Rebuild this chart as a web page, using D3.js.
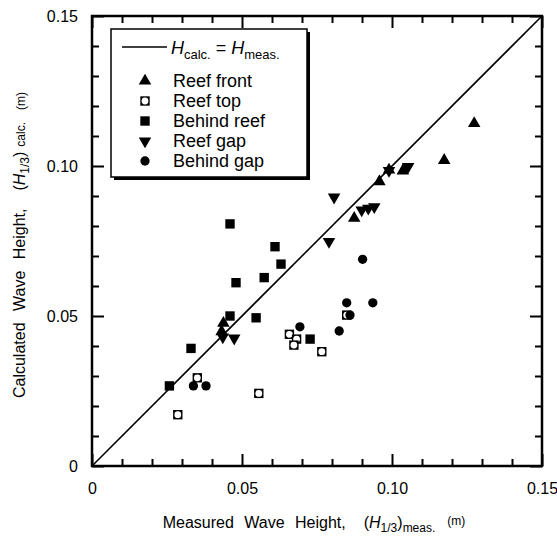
<!DOCTYPE html>
<html lang="en">
<head>
<meta charset="UTF-8">
<title>Calculated vs Measured Wave Height</title>
<script src="https://d3js.org/d3.v7.min.js"></script>
<style>
    body { margin: 0; background: #fff; }
    svg { font-family: "Liberation Sans", Arial, sans-serif; }
    .tick text { font-size: 16px; fill: #000; }
    .tick line { stroke: #000; stroke-width: 2px; }
</style>
</head>
<body>
<svg width="557" height="537"></svg>
<script>
// values, (measured, calculated) in metres
const reefFront = [[0.0438, 0.0476], [0.0432, 0.0448], [0.0874, 0.0826], [0.0958, 0.0948],
    [0.0990, 0.0987], [0.1036, 0.0984], [0.1174, 0.1019], [0.1274, 0.1142]];
const reefTop = [[0.0286, 0.0171], [0.0351, 0.0294], [0.0556, 0.0242], [0.0658, 0.0439],
    [0.0682, 0.0423], [0.0673, 0.0403], [0.0766, 0.0381], [0.0849, 0.0503]];
const behindReef = [[0.0258, 0.0267], [0.0330, 0.0392], [0.0460, 0.0500], [0.0547, 0.0494],
    [0.0480, 0.0611], [0.0574, 0.0628], [0.0630, 0.0673], [0.0610, 0.0731], [0.0460, 0.0807],
    [0.0727, 0.0423]];
const reefGap = [[0.0436, 0.0430], [0.0474, 0.0426], [0.0790, 0.0748], [0.0807, 0.0896],
    [0.0899, 0.0853], [0.0921, 0.0859], [0.0941, 0.0864], [0.0990, 0.0985], [0.1054, 0.0998]];
const behindGap = [[0.0338, 0.0267], [0.0380, 0.0267], [0.0693, 0.0464], [0.0824, 0.0450],
    [0.0849, 0.0544], [0.0860, 0.0503], [0.0936, 0.0544], [0.0902, 0.0689]];

const majorTicks = [0, 0.05, 0.10, 0.15];
const minorTicks = [0.01, 0.02, 0.03, 0.04, 0.06, 0.07, 0.08, 0.09, 0.11, 0.12, 0.13, 0.14];
const tickLabels = ["0", "0.05", "0.10", "0.15"];
const legendNames = ["Reef front", "Reef top", "Behind reef", "Reef gap", "Behind gap"];

const svg = d3.select("svg"),
      margin = { top: 16, right: 15, bottom: 71, left: 92 },
      width = 557 - margin.left - margin.right,
      height = 537 - margin.top - margin.bottom,
      g = svg.append("g").attr("transform", `translate(${margin.left},${margin.top})`);

const x = d3.scaleLinear().domain([0, 0.15]).range([0, width]);
const y = d3.scaleLinear().domain([0, 0.15]).range([height, 0]);
const fmt = d => tickLabels[majorTicks.findIndex(t => Math.abs(t - d) < 1e-9)];

// inward ticks on all four sides
g.append("g").attr("transform", `translate(0,${height})`)
    .call(d3.axisBottom(x).tickValues(minorTicks).tickSize(-7).tickFormat(""));
g.append("g").attr("transform", `translate(0,${height})`)
    .call(d3.axisBottom(x).tickValues(majorTicks).tickSize(-12).tickPadding(17).tickFormat(fmt));
g.append("g").call(d3.axisTop(x).tickValues(minorTicks).tickSize(-7).tickFormat(""));
g.append("g").call(d3.axisTop(x).tickValues(majorTicks).tickSize(-12).tickFormat(""));
g.append("g").call(d3.axisLeft(y).tickValues(minorTicks).tickSize(-7).tickFormat(""));
g.append("g").call(d3.axisLeft(y).tickValues(majorTicks).tickSize(-12).tickPadding(14).tickFormat(fmt));
g.append("g").attr("transform", `translate(${width},0)`)
    .call(d3.axisRight(y).tickValues(minorTicks).tickSize(-7).tickFormat(""));
g.append("g").attr("transform", `translate(${width},0)`)
    .call(d3.axisRight(y).tickValues(majorTicks).tickSize(-12).tickFormat(""));
g.selectAll(".domain").remove();

// frame
g.append("rect").attr("width", width).attr("height", height)
    .attr("fill", "none").attr("stroke", "#000").attr("stroke-width", 2.5);

// 1:1 line
g.append("line")
    .attr("x1", x(0)).attr("y1", y(0)).attr("x2", x(0.15)).attr("y2", y(0.15))
    .attr("stroke", "#000").attr("stroke-width", 1.6);

const triUp = d3.symbol().type(d3.symbolTriangle).size(68);
const sq = d3.symbol().type(d3.symbolSquare).size(88);
const circ = d3.symbol().type(d3.symbolCircle).size(68);

function drawMarker(sel, kind) {
    if (kind === 0) sel.append("path").attr("d", triUp()).attr("fill", "#000");
    if (kind === 1) {
        sel.append("path").attr("d", sq()).attr("fill", "#000");
        sel.append("circle").attr("r", 3.4).attr("fill", "#fff");
    }
    if (kind === 2) sel.append("path").attr("d", sq()).attr("fill", "#000");
    if (kind === 3) sel.append("path").attr("d", triUp()).attr("transform", "rotate(180)").attr("fill", "#000");
    if (kind === 4) sel.append("path").attr("d", circ()).attr("fill", "#000");
}

[reefFront, reefTop, behindReef, reefGap, behindGap].forEach((series, k) => {
    g.append("g").selectAll("g")
        .data(series)
        .enter().append("g")
        .attr("transform", d => `translate(${x(d[0])},${y(d[1])})`)
        .each(function () { drawMarker(d3.select(this), k); });
});

// legend
const lg = svg.append("g").attr("transform", "translate(111,29)");
lg.append("rect").attr("x", 3).attr("y", 3).attr("width", 196).attr("height", 148).attr("fill", "#000");
lg.append("rect").attr("width", 196).attr("height", 148)
    .attr("fill", "#fff").attr("stroke", "#000").attr("stroke-width", 1.5);
lg.append("line").attr("x1", 11).attr("x2", 56).attr("y1", 18).attr("y2", 18)
    .attr("stroke", "#000").attr("stroke-width", 1.6);
const eq = lg.append("text").attr("x", 60).attr("y", 25).attr("font-size", 18);
eq.append("tspan").attr("font-style", "italic").text("H");
eq.append("tspan").attr("font-size", 13).attr("dy", 5).text("calc.");
eq.append("tspan").attr("dy", -5).text(" = ");
eq.append("tspan").attr("font-style", "italic").text("H");
eq.append("tspan").attr("font-size", 13).attr("dy", 5).text("meas.");

legendNames.forEach((name, i) => {
    const row = lg.append("g").attr("transform", `translate(34,${52 + i * 20})`);
    drawMarker(row, i);
    row.append("text").attr("x", 28).attr("y", 6).attr("font-size", 18).text(name);
});

// axis titles
const xt = svg.append("text").attr("x", 314).attr("y", 528)
    .attr("text-anchor", "middle").attr("font-size", 16).attr("word-spacing", 6);
xt.append("tspan").text("Measured Wave Height,");
xt.append("tspan").attr("dx", 18).text("(");
xt.append("tspan").attr("font-style", "italic").text("H");
xt.append("tspan").attr("font-size", 12).attr("dy", 4).text("1/3");
xt.append("tspan").attr("dy", -4).text(")");
xt.append("tspan").attr("font-size", 12).attr("dy", 4).text("meas.");
xt.append("tspan").attr("font-size", 12).attr("dy", -7).attr("dx", 12).text("(m)");

const yt = svg.append("text").attr("transform", "translate(25,245) rotate(-90)")
    .attr("text-anchor", "middle").attr("font-size", 16).attr("word-spacing", 7);
yt.append("tspan").text("Calculated Wave Height,");
yt.append("tspan").attr("dx", 18).text("(");
yt.append("tspan").attr("font-style", "italic").text("H");
yt.append("tspan").attr("font-size", 12).attr("dy", 4).text("1/3");
yt.append("tspan").attr("dy", -4).text(")");
yt.append("tspan").attr("font-size", 12).attr("dx", 5).text("calc.");
yt.append("tspan").attr("font-size", 12).attr("dx", 12).text("(m)");
</script>
</body>
</html>
